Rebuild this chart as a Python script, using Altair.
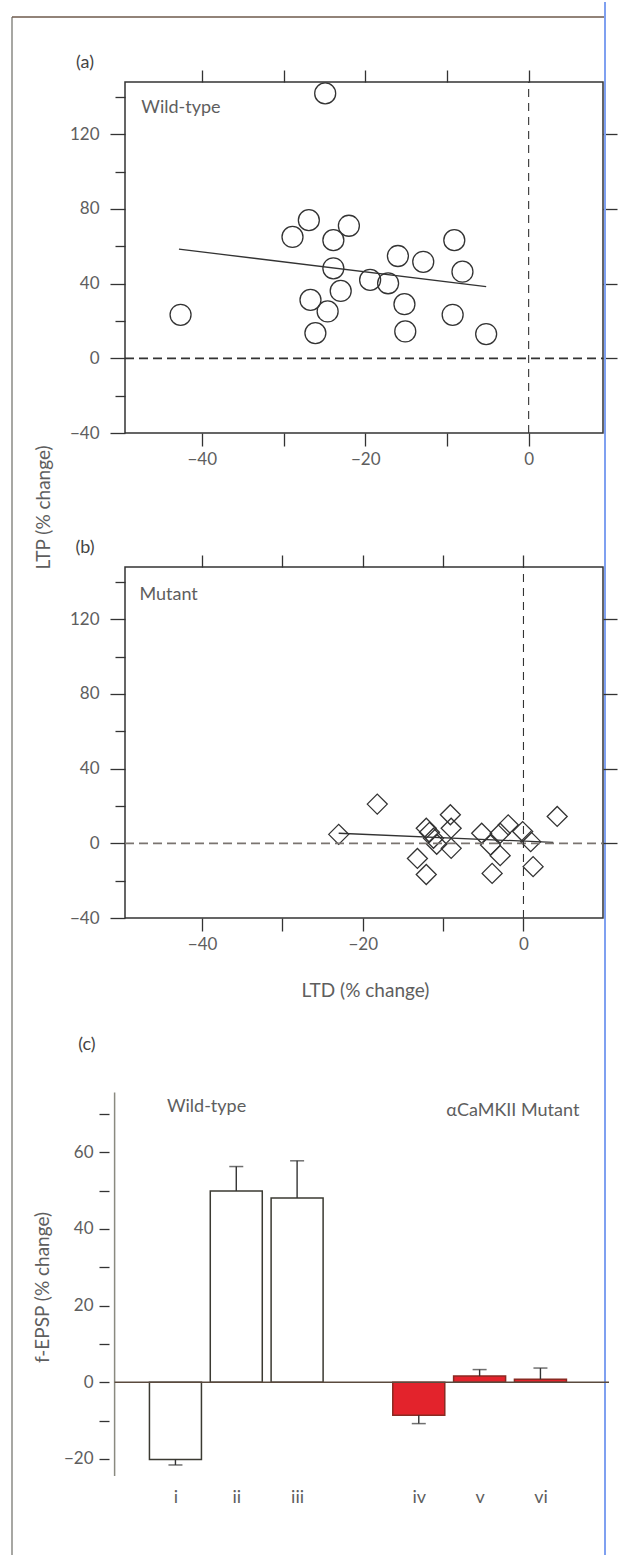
import altair as alt
import pandas as pd

# ---------------- data ----------------
# (a) wild-type: LTD (% change) vs LTP (% change)
wt_ltd = [-24.9, -42.6, -28.9, -26.9, -22.0, -23.9, -23.9, -23.0, -26.7, -24.6, -26.1,
          -19.4, -17.2, -16.0, -12.9, -15.2, -15.1, -9.1, -8.1, -9.3, -5.2]
wt_ltp = [141.9, 23.3, 65.0, 74.0, 71.0, 63.3, 48.2, 36.1, 31.3, 25.1, 13.5,
          42.0, 40.2, 54.8, 51.7, 29.0, 14.4, 63.3, 46.4, 23.3, 13.0]
wt_fit_x = [-42.8, -5.2]
wt_fit_y = [58.5, 38.4]

# (b) mutant
mut_ltd = [-23.0, -18.2, -12.1, -11.7, -11.2, -10.8, -13.2, -12.1, -9.1, -9.0, -9.0,
           -5.2, -4.1, -3.9, -2.9, -2.9, -1.9, -0.1, 0.9, 1.2, 4.2]
mut_ltp = [4.8, 21.0, 8.1, 5.9, 2.7, -0.5, -8.1, -16.7, 15.3, 8.1, -2.7,
           5.4, -0.9, -16.1, 5.4, -6.6, 9.9, 6.3, 0.9, -12.5, 14.4]
mut_fit_x = [-23.0, 3.7]
mut_fit_y = [5.4, 0.5]

# (c) f-EPSP bars
bar_labels = ["i", "ii", "iii", "iv", "v", "vi"]
bar_pos = [1, 2, 3, 5, 6, 7]
bar_values = [-20.2, 49.9, 48.1, -8.6, 1.6, 0.8]
bar_sem = [1.4, 6.4, 9.7, 2.2, 1.7, 2.9]
bar_group = ["Wild-type", "Wild-type", "Wild-type", "Mutant", "Mutant", "Mutant"]

# ---------------- style ----------------
FONT = "Lato"
LBL = "#5e5e5e"
INK = "#333333"
RED = "#e3232c"

Y_DOM = [-40, 148]
A_XDOM = [-49.4, 9.1]
B_XDOM = [-49.6, 9.9]
PW, PH = 478, 351


def one_row():
    return pd.DataFrame({"k": [0]})


def px_rule(x, x2, y, y2, color, width):
    return alt.Chart(one_row()).mark_rule(color=color, strokeWidth=width).encode(
        x=alt.value(x), x2=alt.value(x2), y=alt.value(y), y2=alt.value(y2))


def px_text(txt, x, y, size=18, color="#444444"):
    return alt.Chart(one_row()).mark_text(
        text=txt, font=FONT, fontSize=size, color=color, align="center", baseline="middle"
    ).encode(x=alt.value(x), y=alt.value(y))


def scatter_panel(xs, ys, fx, fy, xdom, shape, size, name, name_x, name_y, letter,
                  x_title=None, y_title=None, frame=False, zero_color=INK):
    pts = pd.DataFrame({"ltd": xs, "ltp": ys})
    fit = pd.DataFrame({"ltd": fx, "ltp": fy})
    sx = alt.Scale(domain=xdom, nice=False, zero=False)
    sy = alt.Scale(domain=Y_DOM, nice=False, zero=False)

    xb = dict(orient="bottom", values=[-40, -30, -20, -10, 0], tickSize=13,
              labelExpr="datum.value % 20 === 0 ? datum.label : ''",
              labelPadding=5, domain=False, grid=False)
    if x_title:
        xb.update(title=x_title, titleX=240, titleY=72, titleAlign="center",
                  titleBaseline="middle")
    else:
        xb.update(title=None)
    yl = dict(orient="left", values=list(range(-40, 141, 20)),
              tickSize={"condition": {"test": "datum.value % 40 === 0", "value": 15}, "value": 10},
              labelExpr="datum.value % 40 === 0 ? datum.label : ''",
              labelPadding=11, domain=False, grid=False)
    if y_title:
        yl.update(title=y_title, titleX=-82, titleY=425, titleAngle=270,
                  titleAlign="center", titleBaseline="middle")
    else:
        yl.update(title=None)

    points = alt.Chart(pts).mark_point(
        shape=shape, size=size, filled=False, stroke=INK, strokeWidth=1.3, opacity=1
    ).encode(
        x=alt.X("ltd:Q", scale=sx, axis=alt.Axis(**xb)),
        y=alt.Y("ltp:Q", scale=sy, axis=alt.Axis(**yl)),
    )
    line = alt.Chart(fit).mark_line(color=INK, strokeWidth=1.3).encode(
        x=alt.X("ltd:Q", scale=sx, axis=alt.Axis(orient="top", values=[-40, -30, -20, -10, 0],
                                                   tickSize=12, labels=False, domain=False,
                                                   grid=False, title=None)),
        y=alt.Y("ltp:Q", scale=sy, axis=alt.Axis(orient="right", values=[0, 40, 80, 120],
                                                   tickSize=14, labels=False, domain=False,
                                                   grid=False, title=None)),
    )
    hz = alt.Chart(pd.DataFrame({"x": [xdom[0]], "x2": [xdom[1]], "y": [0]})).mark_rule(
        color=zero_color, strokeWidth=1.8, strokeDash=[9, 5]
    ).encode(x=alt.X("x:Q", scale=sx, axis=None), x2="x2:Q",
             y=alt.Y("y:Q", scale=sy, axis=None))
    vt = alt.Chart(pd.DataFrame({"x": [0], "y": [Y_DOM[0]], "y2": [Y_DOM[1]]})).mark_rule(
        color=INK, strokeWidth=1.1, strokeDash=[8, 6]
    ).encode(x=alt.X("x:Q", scale=sx, axis=None),
             y=alt.Y("y:Q", scale=sy, axis=None), y2="y2:Q")
    lab = alt.Chart(pd.DataFrame({"x": [name_x], "y": [name_y], "t": [name]})).mark_text(
        font=FONT, fontSize=18, color=LBL, align="left", baseline="middle"
    ).encode(x=alt.X("x:Q", scale=sx, axis=None), y=alt.Y("y:Q", scale=sy, axis=None), text="t:N")

    layers = [points, line, hz, vt, lab, px_text(letter, -40, -19)]
    if frame:
        layers += [
            px_rule(-113, -113, -65, 1475, "#8a8a84", 1.5),
            px_rule(-113, 480, -65, -65, "#6e5a4c", 1.5),
            px_rule(480, 480, -80, 1475, "#7fa0f0", 2),
        ]
    return alt.layer(*layers).resolve_axis(x="independent", y="independent").properties(
        width=PW, height=PH)


panel_a = scatter_panel(wt_ltd, wt_ltp, wt_fit_x, wt_fit_y, A_XDOM, "circle", 440,
                        "Wild-type", -47.4, 134, "(a)", y_title="LTP (% change)", frame=True)
panel_b = scatter_panel(mut_ltd, mut_ltp, mut_fit_x, mut_fit_y, B_XDOM, "diamond", 400,
                        "Mutant", -47.8, 133, "(b)", x_title="LTD (% change)",
                        zero_color="#7a7470")

# ---------------- panel c ----------------
C_XDOM = [0.253, 8.127]
C_YDOM = [-25, 86.2]
CW, CH = 489, 426
cx = alt.Scale(domain=C_XDOM, nice=False, zero=False)
cy = alt.Scale(domain=C_YDOM, nice=False, zero=False)

bars = pd.DataFrame({"label": bar_labels, "pos": bar_pos, "value": bar_values,
                     "sem": bar_sem, "group": bar_group})
bars["base"] = 0.0
bars["end"] = [v + (s if v >= 0 else -s) for v, s in zip(bar_values, bar_sem)]

roman_expr = "''"
for p, l in reversed(list(zip(bar_pos, bar_labels))):
    roman_expr = f"datum.value === {p} ? '{l}' : {roman_expr}"

c_bars = alt.Chart(bars).mark_bar(size=52, strokeWidth=1.5).encode(
    x=alt.X("pos:Q", scale=cx, axis=alt.Axis(orient="bottom", values=bar_pos, labelExpr=roman_expr,
                                              ticks=False, domain=False, grid=False,
                                              labelPadding=10, labelFontSize=18, title=None)),
    y=alt.Y("value:Q", scale=cy, axis=alt.Axis(
        orient="left", values=list(range(-20, 71, 10)), tickSize=10,
        labelExpr="datum.value % 20 === 0 ? datum.label : ''", domain=False, grid=False,
        offset=16, labelPadding=6, title="f-EPSP (% change)", titleX=-66.5, titleY=235,
        titleAngle=270, titleAlign="center", titleBaseline="middle")),
    y2=alt.Y2("base:Q"),
    fill=alt.Fill("group:N", scale=alt.Scale(domain=["Wild-type", "Mutant"], range=["white", RED]),
                  legend=None),
    stroke=alt.Stroke("group:N", scale=alt.Scale(domain=["Wild-type", "Mutant"],
                                                 range=["#3b3a32", "#8a2a22"]), legend=None),
)
c_err = alt.Chart(bars).mark_rule(color=INK, strokeWidth=1.4).encode(
    x=alt.X("pos:Q", scale=cx, axis=None), y=alt.Y("value:Q", scale=cy, axis=None), y2="end:Q")
c_cap = alt.Chart(bars).mark_tick(orient="horizontal", size=14, thickness=1.5, color=INK).encode(
    x=alt.X("pos:Q", scale=cx, axis=None), y=alt.Y("end:Q", scale=cy, axis=None))
c_zero = alt.Chart(pd.DataFrame({"x": [0], "x2": [C_XDOM[1]], "y": [0]})).mark_rule(
    color="#5a4a3e", strokeWidth=1.5
).encode(x=alt.X("x:Q", scale=cx, axis=None), x2="x2:Q", y=alt.Y("y:Q", scale=cy, axis=None))
c_axis = alt.Chart(pd.DataFrame({"x": [0], "y": [-24.5], "y2": [75.6]})).mark_rule(
    color="#8a8a80", strokeWidth=1.5
).encode(x=alt.X("x:Q", scale=cx, axis=None), y=alt.Y("y:Q", scale=cy, axis=None), y2="y2:Q")
c_lab = pd.DataFrame({"x": [0.86, 7.64], "y": [71.8, 70.9],
                      "t": ["Wild-type", "αCaMKII Mutant"], "a": ["left", "right"]})
c_txt = alt.Chart(c_lab).transform_filter("datum.a === 'left'").mark_text(
    font=FONT, fontSize=18, color=LBL, align="left", baseline="middle").encode(
    x=alt.X("x:Q", scale=cx, axis=None), y=alt.Y("y:Q", scale=cy, axis=None), text="t:N")
c_txt2 = alt.Chart(c_lab).transform_filter("datum.a === 'right'").mark_text(
    font=FONT, fontSize=18, color=LBL, align="right", baseline="middle").encode(
    x=alt.X("x:Q", scale=cx, axis=None), y=alt.Y("y:Q", scale=cy, axis=None), text="t:N")

panel_c = alt.layer(c_bars, c_axis, c_err, c_cap, c_zero, c_txt, c_txt2,
                    px_text("(c)", -38, -7)).resolve_axis(
    x="independent", y="independent").properties(
    width=CW, height=CH, view=alt.ViewBackground(stroke="transparent"))

chart = alt.vconcat(panel_a, panel_b, panel_c, spacing=134, bounds="flush").properties(
    padding={"left": 10, "top": 0, "right": 0, "bottom": 0}, background="white"
).configure_view(stroke=INK, strokeWidth=1.5).configure_axis(
    labelFont=FONT, labelFontSize=17, labelColor=LBL, titleFont=FONT, titleFontSize=19,
    titleColor=LBL, titleFontWeight="normal", tickColor=INK, tickWidth=1.3, grid=False
).configure_text(font=FONT)

chart.save("out.html", embed_options={"renderer": "svg", "actions": False})
